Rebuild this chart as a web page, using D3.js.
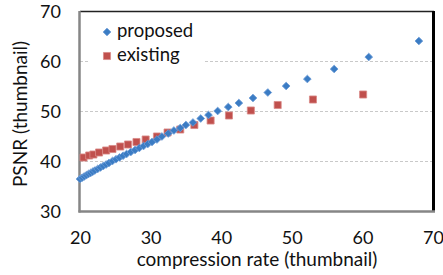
<!DOCTYPE html>
<html><head><meta charset="utf-8">
<script src="https://cdn.jsdelivr.net/npm/d3@7"></script>
<style>html,body{margin:0;padding:0;background:#fff;}svg{display:block;}</style>
</head><body>
<script>
const xTicks = [20, 30, 40, 50, 60, 70];
const yTicks = [30, 40, 50, 60, 70];
const seriesNames = ["proposed", "existing"];
const proposedX = [20.0,20.3,20.6,20.9,21.2,21.5,21.8,22.1,22.5,22.9,23.3,23.7,24.1,24.6,25.1,25.6,26.1,26.6,27.2,27.8,28.4,29.0,29.6,30.2,30.9,31.6,32.5,33.3,34.2,35.0,36.0,37.1,38.2,39.5,41.0,42.5,44.5,46.6,49.2,52.2,56.0,60.9,68.0];
const proposedY = [36.4,36.65,36.9,37.15,37.4,37.6,37.85,38.1,38.4,38.7,39.0,39.3,39.6,40.0,40.35,40.7,41.05,41.4,41.8,42.2,42.6,43.0,43.4,43.8,44.3,44.9,45.5,46.1,46.6,47.2,47.7,48.5,49.2,50.0,50.8,51.6,52.6,53.7,55.0,56.4,58.4,60.8,64.0];
const existingX = [20.5,21.3,21.9,22.7,23.7,24.6,25.7,26.8,28.0,29.3,30.9,32.4,34.2,36.2,38.5,41.1,44.2,48.0,53.0,60.1];
const existingY = [40.7,41.1,41.3,41.7,42.1,42.4,42.9,43.3,43.8,44.3,44.9,45.7,46.3,47.2,48.1,49.1,50.1,51.2,52.3,53.3];
const xTitle = "compression rate (thumbnail)";
const yTitle = "PSNR (thumbnail)";

const W = 443, H = 275;
const FONT = "Lato, 'Open Sans', sans-serif";
const blue = "#3b7cc4", red = "#c0504d";

const svg = d3.select("body").append("svg").attr("width", W).attr("height", H);
const x = d3.scaleLinear().domain([20, 70]).range([80, 433]);
const y = d3.scaleLinear().domain([30, 70]).range([211, 11]);

// gridlines
svg.append("g").selectAll("line").data(yTicks.filter(t => t > 30 && t < 70)).join("line")
  .attr("x1", x(20)).attr("x2", x(70)).attr("y1", d => y(d) + 0.5).attr("y2", d => y(d) + 0.5)
  .attr("stroke", "#c9c9c9").attr("stroke-width", 1).attr("stroke-dasharray", "3,2");

// legend background
svg.append("rect").attr("x", 89).attr("y", 15).attr("width", 116).attr("height", 52).attr("fill", "#fff");

// frame
svg.append("line").attr("x1", x(20)).attr("x2", x(70) + 1).attr("y1", y(70) + 0.5).attr("y2", y(70) + 0.5).attr("stroke", "#222").attr("stroke-width", 1.5);
svg.append("line").attr("x1", x(70) + 0.5).attr("x2", x(70) + 0.5).attr("y1", y(70)).attr("y2", y(30) + 1).attr("stroke", "#000").attr("stroke-width", 3);
svg.append("line").attr("x1", x(20) - 0.5).attr("x2", x(20) - 0.5).attr("y1", y(70)).attr("y2", y(30) + 1.5).attr("stroke", "#868686").attr("stroke-width", 2.5);
svg.append("line").attr("x1", x(20) - 1.5).attr("x2", x(70) + 2).attr("y1", y(30) + 0.5).attr("y2", y(30) + 0.5).attr("stroke", "#868686").attr("stroke-width", 2.5);

// axes tick labels via d3 axes
const xAxis = d3.axisBottom(x).tickValues(xTicks).tickSize(0).tickPadding(0).tickFormat(d3.format("d"));
const gx = svg.append("g").attr("transform", `translate(0,${y(30)})`).call(xAxis);
gx.select(".domain").remove();
gx.selectAll("text").attr("font-family", FONT).attr("font-size", 18).attr("fill", "#111").attr("dy", 0).attr("y", 33);

const yAxis = d3.axisLeft(y).tickValues(yTicks).tickSize(0).tickPadding(0).tickFormat(d3.format("d"));
const gy = svg.append("g").attr("transform", `translate(61,0)`).call(yAxis);
gy.select(".domain").remove();
gy.selectAll("text").attr("font-family", FONT).attr("font-size", 18).attr("fill", "#111").attr("dy", "0.36em");

// titles
svg.append("text").attr("x", 257).attr("y", 266).attr("text-anchor", "middle")
  .attr("font-family", FONT).attr("font-size", 19).attr("fill", "#111").text(xTitle);
svg.append("text").attr("transform", "translate(27,114) rotate(-90)").attr("text-anchor", "middle")
  .attr("font-family", FONT).attr("font-size", 19).attr("fill", "#111").text(yTitle);

// series
const diamond = d3.symbol().type(d3.symbolSquare).size(30);
const square = d3.symbol().type(d3.symbolSquare).size(50);
const existing = existingX.map((v, i) => [v, existingY[i]]);
const proposed = proposedX.map((v, i) => [v, proposedY[i]]);

svg.append("g").selectAll("path").data(existing).join("path")
  .attr("d", square).attr("transform", d => `translate(${x(d[0])},${y(d[1])})`)
  .attr("fill", red).attr("stroke", "#d98a88").attr("stroke-width", 0.8);
svg.append("g").selectAll("path").data(proposed).join("path")
  .attr("d", diamond).attr("transform", d => `translate(${x(d[0])},${y(d[1])}) rotate(45)`)
  .attr("fill", blue).attr("stroke", "#6a9bd6").attr("stroke-width", 0.8);

// legend
const lg = svg.append("g");
lg.append("path").attr("d", diamond).attr("transform", "translate(107,32) rotate(45)").attr("fill", blue).attr("stroke", "#6a9bd6").attr("stroke-width", 0.8);
lg.append("path").attr("d", square).attr("transform", "translate(107,56)").attr("fill", red).attr("stroke", "#d98a88").attr("stroke-width", 0.8);
lg.append("text").attr("x", 117).attr("y", 37).attr("font-family", FONT).attr("font-size", 18.5).attr("fill", "#111").text(seriesNames[0]);
lg.append("text").attr("x", 117).attr("y", 61).attr("font-family", FONT).attr("font-size", 18.5).attr("fill", "#111").text(seriesNames[1]);
</script>
</body></html>
